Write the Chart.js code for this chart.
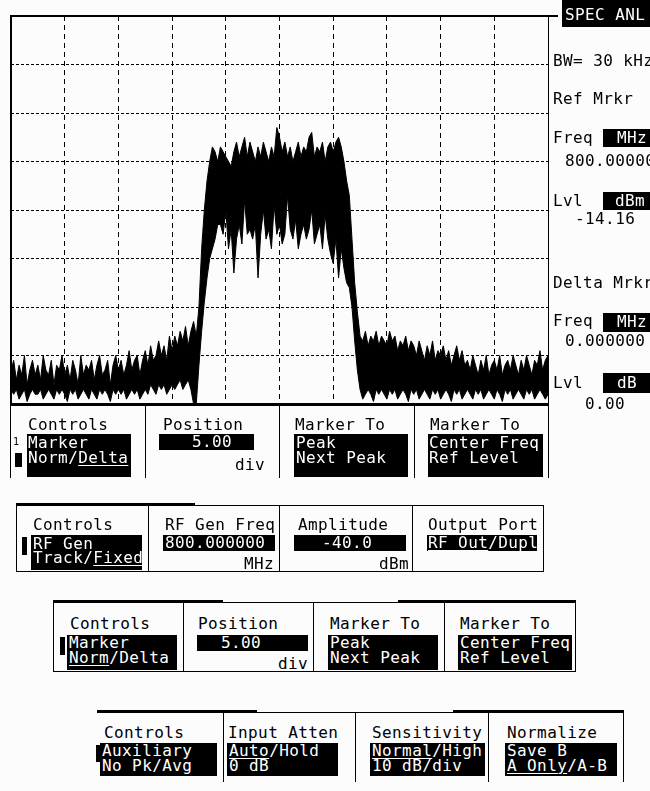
<!DOCTYPE html>
<html>
<head>
<meta charset="utf-8">
<script src="https://cdn.jsdelivr.net/npm/chart.js@4.4.1/dist/chart.umd.min.js"></script>
<style>
html, body { margin: 0; padding: 0; background: #fcfcfc; }
body { width: 650px; height: 791px; position: relative; overflow: hidden;
       font-family: "DejaVu Sans Mono", monospace; font-size: 16px; letter-spacing: 0.4px; color: #000; }
#spec { position: absolute; left: 0; top: 0; }
.t { position: absolute; line-height: 16px; white-space: pre; }
.w { color: #fff; }
.b { position: absolute; background: #000; }
.sm { font-size: 10px; line-height: 10px; }
u { text-decoration: underline; text-decoration-thickness: 1px; text-underline-offset: 2px; }
</style>
</head>
<body>
<canvas id="spec" width="560" height="420"></canvas>
<div id="ui"></div>
<script>
// span 797.5 - 802.5 MHz, 0.025 MHz per trace point
var freqStart = 797.5;
var freqStep = 0.025;

// peak (upper) and floor (lower) of the noisy trace, dBm
var traceMax = [
  -63, -61, -65, -62, -64, -60, -66, -63, -61, -64,
  -62, -65, -60, -63, -64, -61, -66, -62, -63, -60,
  -64, -62, -65, -61, -63, -66, -60, -64, -62, -63,
  -61, -65, -62, -60, -64, -63, -61, -66, -62, -60,
  -63, -61, -64, -62, -59, -63, -61, -60, -64, -61,
  -59, -62, -58, -61, -60, -57, -60, -58, -61, -56,
  -59, -56, -58, -55, -57, -54, -58, -55, -53, -56,
  -50, -38, -30, -24, -20, -17, -18, -20, -17, -18,
  -19, -20, -21, -18, -16, -19, -17, -15, -19, -16,
  -18, -20, -17, -19, -16, -18, -20, -17, -19, -13,
  -15, -18, -16, -19, -17, -20, -18, -16, -19, -17,
  -18, -15, -14, -19, -17, -18, -16, -20, -17, -16,
  -18, -16, -15, -17, -20, -24, -27, -36, -45, -51,
  -56, -57, -55, -58, -56, -57, -55, -58, -56, -57,
  -58, -55, -57, -56, -59, -57, -58, -56, -59, -57,
  -58, -60, -57, -59, -61, -58, -60, -57, -61, -59,
  -60, -58, -61, -59, -62, -60, -58, -61, -59, -62,
  -61, -63, -60, -62, -64, -61, -63, -60, -64, -62,
  -61, -63, -60, -64, -62, -61, -63, -60, -62, -64,
  -61, -63, -60, -62, -64, -61, -62, -59, -63, -61, -60
];
var traceMin = [
  -67, -68, -67, -69, -68, -67, -69.5, -68, -67, -68,
  -68, -67, -69, -68, -67, -68, -69, -67, -68, -67,
  -68, -69.5, -67, -68, -67, -69, -68, -67, -68, -69,
  -67, -68, -69, -67, -68, -67, -68, -69.5, -67, -68,
  -67, -68, -67, -69, -68, -67, -68, -67, -69, -68,
  -67, -68, -66, -67, -68, -66, -67, -66, -68, -67,
  -66, -67, -66, -65, -67, -66, -65, -67, -70, -70,
  -62, -55, -49, -44, -40, -38, -36, -33, -33, -35,
  -30, -38, -34, -43, -36, -33, -37, -28, -35, -34,
  -36, -33, -44, -35, -30, -36, -34, -38, -29, -35,
  -33, -37, -35, -27, -34, -36, -32, -38, -35, -33,
  -36, -34, -30, -37, -35, -33, -38, -31, -36, -39,
  -41, -36, -44, -38, -42, -45, -46, -50, -57, -63,
  -67, -69, -68, -67, -68, -69.5, -67, -68, -67, -68,
  -69, -67, -68, -67, -69, -68, -67, -68, -69.5, -67,
  -68, -67, -69, -68, -67, -68, -69, -67, -68, -67,
  -69, -68, -67, -68, -69.5, -67, -68, -67, -69, -68,
  -67, -68, -69, -67, -68, -67, -69, -68, -67, -68,
  -69, -67, -68, -69.5, -67, -68, -67, -69, -68, -67,
  -68, -69, -67, -68, -67, -69, -68, -67, -68, -69, -68
];

var freqMHz = [];
for (var i = 0; i < traceMax.length; i++) {
  freqMHz.push(+(freqStart + i * freqStep).toFixed(3));
}

new Chart(document.getElementById('spec'), {
  type: 'line',
  data: {
    labels: freqMHz,
    datasets: [{
      data: traceMax,
      borderColor: '#000',
      backgroundColor: '#000',
      borderWidth: 1,
      pointRadius: 0,
      tension: 0,
      fill: '+1'
    }, {
      data: traceMin,
      borderColor: '#000',
      borderWidth: 1,
      pointRadius: 0,
      tension: 0,
      fill: false
    }]
  },
  options: {
    responsive: false,
    animation: false,
    events: [],
    layout: { padding: { left: 11, top: 16, right: 12, bottom: 16 } },
    plugins: { legend: { display: false }, tooltip: { enabled: false } },
    scales: {
      x: {
        type: 'linear', min: 797.5, max: 802.5,
        ticks: { display: false, stepSize: 0.5 },
        grid: { color: '#000', lineWidth: 1, drawTicks: false },
        border: { display: false, dash: [5, 4] }
      },
      y: {
        min: -70, max: 10,
        ticks: { display: false, stepSize: 10 },
        grid: { color: '#000', lineWidth: 1, drawTicks: false },
        border: { display: false, dash: [3, 2] }
      }
    }
  }
});

// ---- screen furniture (frame, side readout, softkey panels)
var ui = document.getElementById('ui');
function el(cls, x, y, w, h, html) {
  var d = document.createElement('div');
  d.className = cls;
  d.style.left = x + 'px';
  d.style.top = y + 'px';
  if (w != null) d.style.width = w + 'px';
  if (h != null) d.style.height = h + 'px';
  if (html != null) d.innerHTML = html;
  ui.appendChild(d);
  return d;
}
function txt(x, y, s, white) { return el(white ? 't w' : 't', x, y - 2, null, null, s); }
function rtxt(xr, y, s) { var d = el('t', 0, y - 2, xr, null, s); d.style.textAlign = 'right'; return d; }
function blk(x, y, w, h) { return el('b', x, y, w, h); }
function hl(x1, x2, y, th) { return blk(x1, y, x2 - x1, th || 1); }
function vl(x, y1, y2, th) { return blk(x, y1, th || 1, y2 - y1); }

// plot frame
hl(10, 558, 15, 2);
vl(10, 15, 406, 2);
vl(548, 15, 478);
hl(10, 549, 403, 3);

// side readout
blk(562, 0, 88, 27);
txt(565, 9, 'SPEC ANL', 1);
txt(553, 55, 'BW= 30 kHz');
txt(553, 93, 'Ref Mrkr');
txt(553, 132, 'Freq');
blk(603, 129, 47, 18); txt(617, 132, 'MHz', 1);
txt(565, 155, '800.000000');
txt(553, 195, 'Lvl');
blk(603, 192, 47, 18); txt(615, 195, 'dBm', 1);
txt(575, 213, '-14.16');
txt(553, 277, 'Delta Mrkr');
txt(553, 315, 'Freq');
blk(603, 313, 47, 19); txt(617, 316, 'MHz', 1);
txt(565, 335, '0.000000');
txt(553, 377, 'Lvl');
blk(603, 373, 47, 20); txt(617, 377, 'dB', 1);
txt(585, 398, '0.00');

// panel 1 (under plot)
vl(10, 405, 478); vl(145, 405, 478); vl(279, 405, 478); vl(414, 405, 478);
txt(28, 419, 'Controls');
el('t sm', 13, 437, null, null, '1');
blk(15, 453, 7, 14);
blk(27, 434, 104, 43);
txt(28, 437, 'Marker', 1); txt(28, 452, 'Norm/<u>Delta</u>', 1);
txt(163, 419, 'Position');
blk(159, 434, 95, 16); txt(192, 436, '5.00', 1);
rtxt(265, 459, 'div');
txt(295, 419, 'Marker To');
blk(294, 434, 114, 43);
txt(296, 437, 'Peak', 1); txt(296, 452, 'Next Peak', 1);
txt(430, 419, 'Marker To');
blk(428, 434, 115, 43);
txt(429, 437, 'Center Freq', 1); txt(429, 452, 'Ref Level', 1);

// panel 2 (RF generator)
hl(16, 544, 505); hl(16, 195, 503, 3); hl(16, 544, 571);
vl(16, 505, 572); vl(148, 505, 572); vl(279, 505, 572); vl(412, 505, 572); vl(543, 505, 572);
txt(33, 519, 'Controls');
blk(22, 537, 5, 18);
blk(31, 535, 111, 35);
txt(33, 538, 'RF Gen', 1); txt(33, 552, 'Track/<u>Fixed</u>', 1);
txt(165, 519, 'RF Gen Freq');
blk(163, 535, 112, 16); txt(165, 537, '800.000000', 1);
rtxt(274, 558, 'MHz');
txt(298, 519, 'Amplitude');
blk(294, 535, 112, 16); txt(322, 537, '-40.0', 1);
rtxt(409, 558, 'dBm');
txt(428, 519, 'Output Port');
blk(427, 535, 110, 16); txt(428, 537, '<u>RF Out</u>/Dupl', 1);

// panel 3 (marker)
hl(53, 576, 602); hl(53, 223, 600, 3); hl(398, 576, 600, 3); hl(53, 576, 671);
vl(53, 602, 672); vl(183, 602, 672); vl(313, 602, 672); vl(444, 602, 672); vl(575, 602, 672);
txt(70, 618, 'Controls');
blk(60, 637, 5, 18);
blk(67, 635, 110, 35);
txt(69, 637, 'Marker', 1); txt(69, 652, '<u>Norm</u>/Delta', 1);
txt(198, 618, 'Position');
blk(197, 635, 111, 16); txt(221, 637, '5.00', 1);
rtxt(308, 658, 'div');
txt(330, 618, 'Marker To');
blk(328, 635, 110, 35);
txt(330, 637, 'Peak', 1); txt(330, 652, 'Next Peak', 1);
txt(460, 618, 'Marker To');
blk(458, 635, 114, 35);
txt(460, 637, 'Center Freq', 1); txt(460, 652, 'Ref Level', 1);

// panel 4 (auxiliary)
hl(97, 624, 712); hl(97, 257, 710, 3); hl(453, 624, 710, 3);
vl(223, 712, 782); vl(355, 712, 782); vl(488, 712, 782); vl(623, 712, 782);
txt(104, 727, 'Controls');
blk(96, 745, 5, 17);
blk(100, 743, 117, 33);
txt(102, 745, 'Auxiliary', 1); txt(102, 760, 'No Pk/Avg', 1);
txt(228, 727, 'Input Atten');
blk(227, 743, 111, 33);
txt(229, 745, '<u>Auto</u>/Hold', 1); txt(229, 760, '0 dB', 1);
txt(372, 727, 'Sensitivity');
blk(370, 743, 115, 33);
txt(372, 745, '<u>Normal</u>/High', 1); txt(372, 760, '10 dB/div', 1);
txt(507, 727, 'Normalize');
blk(505, 743, 112, 33);
txt(507, 745, 'Save B', 1); txt(507, 760, '<u>A Only</u>/A-B', 1);
</script>
</body>
</html>
